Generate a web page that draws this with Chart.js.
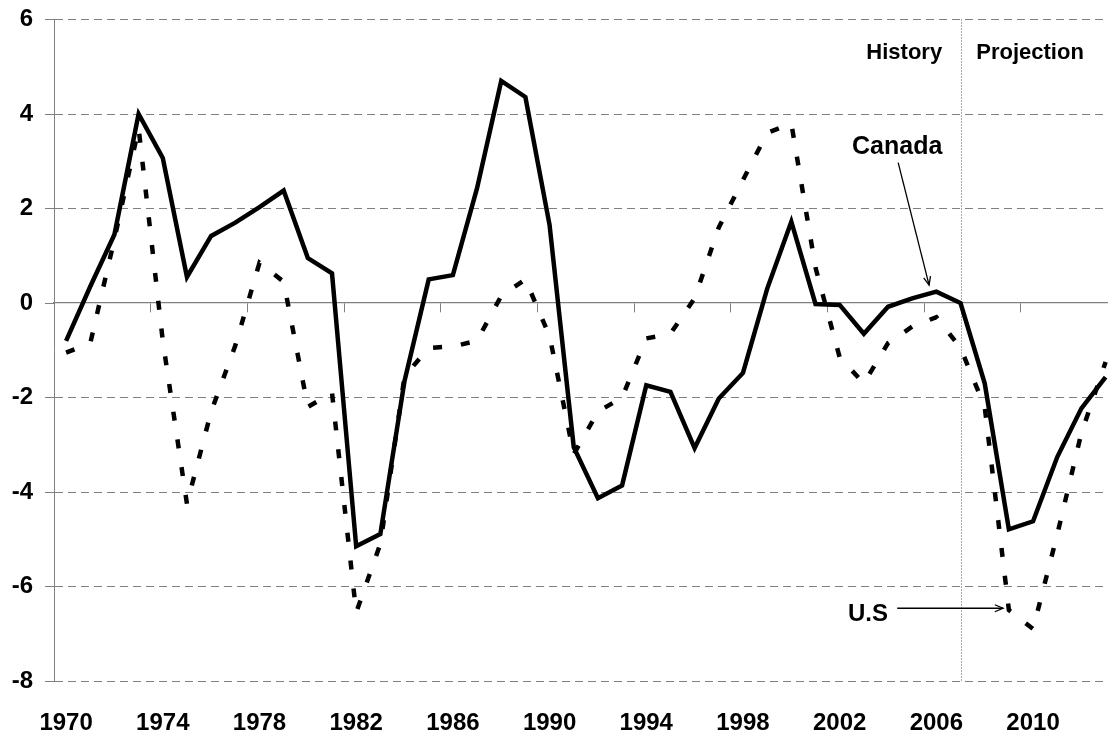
<!DOCTYPE html>
<html>
<head>
<meta charset="utf-8">
<script src="https://cdn.jsdelivr.net/npm/chart.js@4.4.1/dist/chart.umd.min.js"></script>
<style>
  html, body { margin: 0; padding: 0; background: #ffffff; overflow: hidden; }
  #wrap { position: relative; width: 1108px; height: 735px; }
</style>
</head>
<body>
<div id="wrap"><canvas id="c" width="1108" height="735"></canvas></div>
<script>
// ---- data ----
const years = [1970,1971,1972,1973,1974,1975,1976,1977,1978,1979,
               1980,1981,1982,1983,1984,1985,1986,1987,1988,1989,
               1990,1991,1992,1993,1994,1995,1996,1997,1998,1999,
               2000,2001,2002,2003,2004,2005,2006,2007,2008,2009,
               2010,2011,2012,2013];
const canada = [-0.8,0.35,1.45,4.0,3.07,0.55,1.42,1.7,2.03,2.38,
                0.95,0.63,-5.15,-4.89,-1.65,0.5,0.59,2.43,4.7,4.36,
                1.65,-3.05,-4.13,-3.86,-1.74,-1.88,-3.07,-2.02,-1.48,0.3,
                1.72,-0.02,-0.04,-0.65,-0.08,0.1,0.24,0.0,-1.7,-4.79,
                -4.62,-3.26,-2.23,-1.57];
const us = [-1.05,-0.85,1.35,3.7,-0.8,-4.25,-2.3,-0.9,0.85,0.45,
            -2.2,-1.9,-6.55,-5.1,-1.55,-0.95,-0.92,-0.8,0.15,0.5,
            -0.7,-3.2,-2.3,-2.0,-0.75,-0.65,0.1,1.6,2.6,3.6,
            3.8,0.75,-1.15,-1.7,-0.85,-0.5,-0.3,-0.95,-2.2,-6.5,
            -6.9,-4.9,-2.75,-1.25];
const xTickLabels = [1970,1974,1978,1982,1986,1990,1994,1998,2002,2006,2010];
const xTickMarks = [1969.5,1973.5,1977.5,1981.5,1985.5,1989.5,1993.5,1997.5,2001.5,2005.5,2009.5];
const yTicks = [-8,-6,-4,-2,0,2,4,6];
const dividerYear = 2007;
const seriesNames = ['Canada', 'U.S'];

const FONT = '"Liberation Sans", Arial, Helvetica, sans-serif';
const GRAY = '#808080';

const annotPlugin = {
  id: 'annot',
  beforeDatasetsDraw(chart) {
    const {ctx, chartArea, scales: {x}} = chart;
    const px = Math.round(x.getPixelForValue(dividerYear)) + 0.5;
    ctx.save();
    ctx.strokeStyle = '#555555';
    ctx.lineWidth = 1;
    ctx.setLineDash([1, 2]);
    ctx.beginPath();
    ctx.moveTo(px, chartArea.top);
    ctx.lineTo(px, chartArea.bottom);
    ctx.stroke();
    ctx.restore();
  },
  afterDatasetsDraw(chart) {
    const {ctx, scales: {x, y}} = chart;
    const P = (a, b) => [x.getPixelForValue(a), y.getPixelForValue(b)];
    ctx.save();
    ctx.fillStyle = '#000';
    ctx.textBaseline = 'alphabetic';
    ctx.font = 'bold 22px ' + FONT;
    let p = P(2006.24, 5.16);
    ctx.textAlign = 'right';
    ctx.fillText('History', p[0], p[1]);
    p = P(2007.65, 5.16);
    ctx.textAlign = 'left';
    ctx.fillText('Projection', p[0], p[1]);

    ctx.font = 'bold 25px ' + FONT;
    p = P(2004.38, 3.16);
    ctx.textAlign = 'center';
    ctx.fillText(seriesNames[0], p[0], p[1]);

    ctx.font = 'bold 24px ' + FONT;
    p = P(2004.0, -6.72);
    ctx.textAlign = 'right';
    ctx.fillText(seriesNames[1], p[0], p[1]);

    const arrow = (a, b) => {
      const ang = Math.atan2(b[1] - a[1], b[0] - a[0]);
      ctx.strokeStyle = '#000';
      ctx.lineWidth = 1.3;
      ctx.beginPath();
      ctx.moveTo(a[0], a[1]);
      ctx.lineTo(b[0], b[1]);
      ctx.stroke();
      const L = 9, w = 0.4;
      ctx.beginPath();
      ctx.moveTo(b[0] - L * Math.cos(ang - w), b[1] - L * Math.sin(ang - w));
      ctx.lineTo(b[0], b[1]);
      ctx.lineTo(b[0] - L * Math.cos(ang + w), b[1] - L * Math.sin(ang + w));
      ctx.stroke();
    };
    arrow(P(2004.42, 2.97), P(2005.7, 0.38));
    arrow(P(2004.38, -6.46), P(2008.76, -6.46));
    ctx.restore();
  }
};

new Chart(document.getElementById('c'), {
  type: 'line',
  data: {
    datasets: [
      {
        label: seriesNames[0],
        data: years.map((yr, i) => ({x: yr, y: canada[i]})),
        borderColor: '#000000',
        borderWidth: 4.5,
        pointRadius: 0,
        tension: 0,
        fill: false,
        borderJoinStyle: 'miter'
      },
      {
        label: seriesNames[1],
        data: years.map((yr, i) => ({x: yr, y: us[i]})),
        borderColor: '#000000',
        borderWidth: 4.5,
        borderDash: [9, 19],
        borderCapStyle: 'butt',
        pointRadius: 0,
        tension: 0,
        fill: false
      }
    ]
  },
  options: {
    responsive: false,
    animation: false,
    events: [],
    layout: { padding: { top: 19.5, left: 0, right: 0, bottom: 0 } },
    plugins: { legend: { display: false }, tooltip: { enabled: false } },
    scales: {
      x: {
        type: 'linear',
        position: 'bottom',
        min: 1969.5,
        max: 2013.1,
        afterBuildTicks: (axis) => { axis.ticks = xTickLabels.map(v => ({value: v})); },
        afterFit: (axis) => { axis.height = 54; axis.paddingLeft = 0; axis.paddingRight = 0; },
        grid: { display: false, drawTicks: false },
        border: { display: false },
        ticks: {
          autoSkip: false,
          maxRotation: 0,
          padding: 28,
          color: '#000',
          font: { family: FONT, size: 24, weight: 'bold' },
          callback: (v) => String(v)
        }
      },
      x2: {
        type: 'linear',
        position: { y: 0 },
        min: 1969.5,
        max: 2013.1,
        afterBuildTicks: (axis) => { axis.ticks = xTickMarks.map(v => ({value: v})); },
        grid: { drawOnChartArea: false, drawTicks: true, tickLength: 9, color: GRAY, lineWidth: 1 },
        border: { display: true, color: GRAY, width: 1.3 },
        ticks: { display: false }
      },
      y: {
        type: 'linear',
        min: -8,
        max: 6,
        afterBuildTicks: (axis) => { axis.ticks = yTicks.map(v => ({value: v})); },
        afterFit: (axis) => { axis.width = 54; axis.paddingTop = 0; axis.paddingBottom = 0; },
        grid: {
          color: (c) => (c.tick && c.tick.value === 0) ? 'rgba(0,0,0,0)' : GRAY,
          tickColor: GRAY,
          tickLength: 9,
          lineWidth: 1
        },
        border: { display: true, color: GRAY, width: 1, dash: [8, 5] },
        ticks: {
          padding: 12,
          color: '#000',
          font: { family: FONT, size: 24, weight: 'bold' },
          callback: (v) => String(v)
        }
      }
    }
  },
  plugins: [annotPlugin]
});
</script>
</body>
</html>
